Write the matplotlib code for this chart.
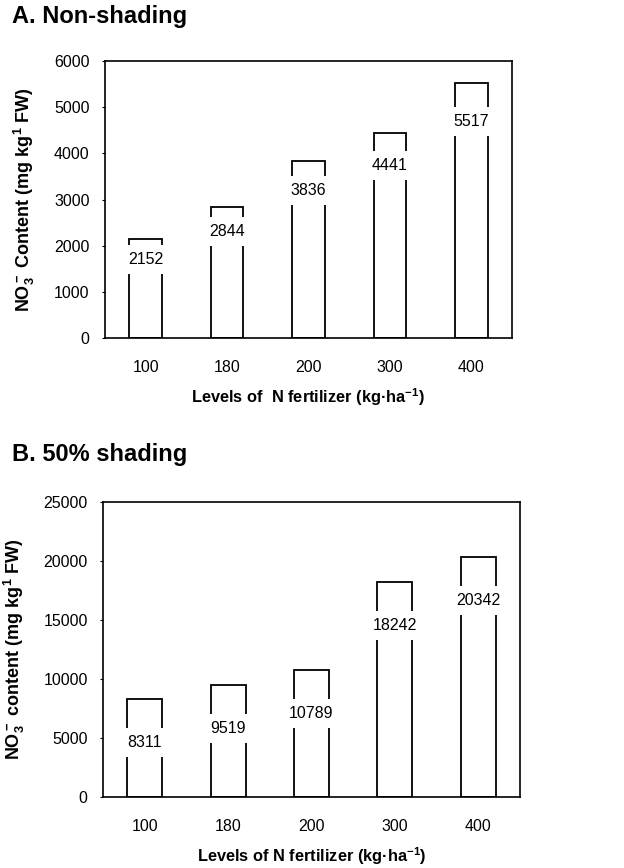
import numpy as np
import matplotlib
matplotlib.use('Agg')
import matplotlib.pyplot as plt

plt.rcParams['font.family'] = ['Liberation Sans', 'DejaVu Sans']
plt.rcParams['mathtext.fontset'] = 'custom'
plt.rcParams['mathtext.rm'] = 'Liberation Sans'
plt.rcParams['mathtext.bf'] = 'Liberation Sans:bold'
plt.rcParams['mathtext.default'] = 'bf'

# ---- data ----
levels = ['100', '180', '200', '300', '400']
nonshade = [2152, 2844, 3836, 4441, 5517]
shade50 = [8311, 9519, 10789, 18242, 20342]

W, H = 624, 868
fig = plt.figure(figsize=(W / 100, H / 100), dpi=100)


def px_axes(left, top, right, bottom):
    return fig.add_axes([left / W, 1 - bottom / H, (right - left) / W, (bottom - top) / H])


def draw_panel(ax, vals, ymax, step, ylabel, xlabel, width, lab_pos):
    x = np.arange(len(vals))
    ax.bar(x, vals, width=width, color='white', edgecolor='black', linewidth=1.3, zorder=2)
    # value labels sit inside the bar on a white patch that breaks the bar edges
    for xi, v in zip(x, vals):
        ax.text(xi, lab_pos(v), f'{v}', ha='center', va='center', fontsize=11.5, zorder=3,
                bbox=dict(facecolor='white', edgecolor='none', pad=5))
    ax.set_xlim(-0.5, 4.5)
    ax.set_ylim(0, ymax)
    ax.set_yticks(np.arange(0, ymax + 1, step))
    ax.set_xticks(x)
    ax.set_xticklabels(levels)
    ax.tick_params(axis='x', length=0, pad=16, labelsize=11.5)
    ax.tick_params(axis='y', length=2, pad=9, labelsize=11.5)
    for s in ax.spines.values():
        s.set_linewidth(1.2)
    ax.set_ylabel(ylabel, fontsize=13, fontweight='bold', labelpad=12)
    ax.set_xlabel(xlabel, fontsize=11.75, fontweight='bold', labelpad=8)


axA = px_axes(105, 61, 512, 338)
draw_panel(axA, nonshade, 6000, 1000,
           r'NO$_3^-$ Content (mg kg$^1$ FW)',
           r'Levels of  N fertilizer (kg·ha$^{-1}$)', 0.4,
           lambda v: 0.89 * v - 220)

axB = px_axes(103, 502, 520, 797)
draw_panel(axB, shade50, 25000, 5000,
           r'NO$_3^-$ content (mg kg$^1$ FW)',
           r'Levels of N fertilizer (kg·ha$^{-1}$)', 0.42,
           lambda v: v - 3700)

fig.text(12 / W, 1 - 17 / H, 'A. Non-shading', fontsize=17, fontweight='bold', va='center', ha='left')
fig.text(12 / W, 1 - 455 / H, 'B. 50% shading', fontsize=17, fontweight='bold', va='center', ha='left')

fig.savefig('out.png', dpi=100)
